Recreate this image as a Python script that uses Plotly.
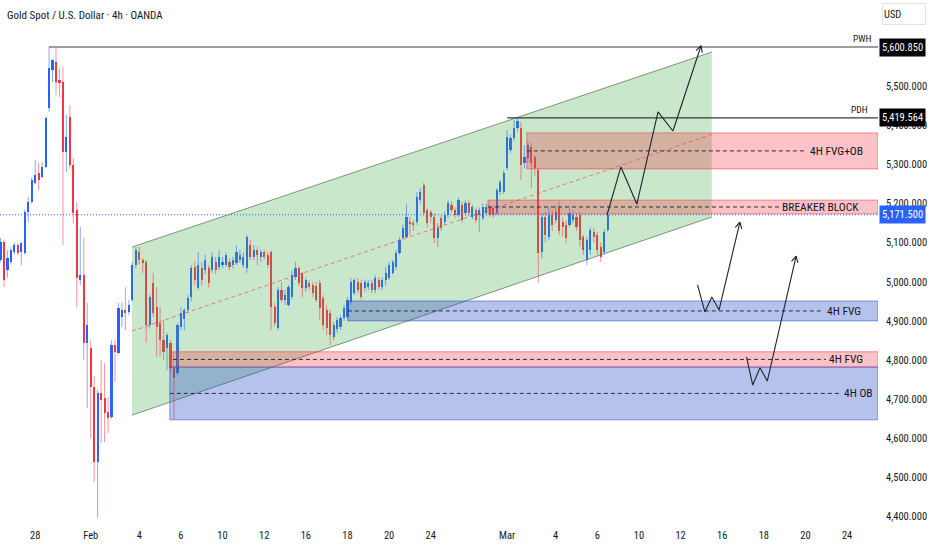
import math

import plotly.graph_objects as go

# ---------------------------------------------------------------------------
# XAU/USD 4h candles as they sit on screen (index 0 = leftmost bar)
# ---------------------------------------------------------------------------
OPEN = [
    5056, 5102, 5030, 5050, 5076, 5094, 5076, 5074, 5179, 5204,
    5253, 5279, 5268, 5294, 5445, 5542, 5563, 5516, 5511, 5332,
    5421, 5299, 5184, 5005, 5018, 4844, 4831, 4731, 4539, 4716,
    4703, 4667, 4655, 4838, 4818, 4910, 4928, 4922, 4954, 5043,
    5076, 5056, 5051, 4890, 4997, 4936, 4895, 4851, 4831, 4844,
    4780, 4767, 4884, 4905, 4928, 4961, 5038, 4985, 5035, 5030,
    5035, 5030, 5051, 5038, 5043, 5043, 5051, 5043, 5048, 5056,
    5043, 5035, 5094, 5064, 5082, 5064, 5076, 5069, 5076, 4936,
    4882, 4979, 4954, 4941, 4961, 5012, 5035, 5023, 4984, 4997,
    4992, 4990, 4997, 4959, 4928, 4920, 4859, 4880, 4884, 4908,
    4910, 4948, 4971, 5000, 4997, 4984, 4987, 4997, 4979, 5005,
    4987, 5005, 5010, 5023, 5038, 5074, 5112, 5115, 5153, 5150,
    5153, 5209, 5248, 5184, 5179, 5166, 5112, 5163, 5153, 5171,
    5197, 5184, 5171, 5197, 5176, 5202, 5166, 5184, 5171, 5163,
    5176, 5192, 5190, 5176, 5230, 5230, 5290, 5337, 5368, 5394,
    5394, 5304, 5317, 5345, 5320, 5286, 5076, 5166, 5115, 5171,
    5158, 5190, 5153, 5146, 5146, 5158, 5166, 5171, 5115, 5056,
    5082, 5128, 5120, 5090, 5076, 5133,
]
HIGH = [
    5112, 5107, 5081, 5090, 5100, 5099, 5102, 5185, 5217, 5268,
    5312, 5304, 5307, 5422, 5600.85, 5570, 5598, 5547, 5550, 5427,
    5452, 5317, 5204, 5140, 5112, 4946, 4850, 4760, 4723, 4800,
    4792, 4705, 4850, 4851, 4946, 4948, 4986, 4954, 5050, 5089,
    5089, 5061, 5056, 4966, 5023, 4987, 4936, 4902, 4870, 4851,
    4787, 4895, 4936, 4933, 4966, 5043, 5051, 5076, 5051, 5069,
    5043, 5076, 5064, 5082, 5064, 5076, 5060, 5064, 5094, 5082,
    5076, 5120, 5107, 5094, 5089, 5082, 5082, 5076, 5080, 4946,
    4987, 5000, 4979, 4992, 5030, 5051, 5040, 5025, 5010, 5005,
    5000, 5000, 5005, 4966, 4941, 4928, 4897, 4910, 4915, 4941,
    4961, 5010, 5010, 5010, 5005, 5005, 5005, 5005, 5018, 5012,
    5012, 5038, 5051, 5056, 5082, 5115, 5146, 5200, 5166, 5158,
    5230, 5240, 5253, 5190, 5184, 5176, 5150, 5170, 5180, 5209,
    5205, 5190, 5215, 5205, 5209, 5209, 5197, 5190, 5190, 5200,
    5200, 5200, 5197, 5240, 5261, 5286, 5389, 5376, 5414, 5419.564,
    5410, 5350, 5360, 5355, 5325, 5292, 5176, 5180, 5190, 5184,
    5197, 5205, 5166, 5158, 5190, 5184, 5176, 5180, 5120, 5115,
    5140, 5138, 5128, 5100, 5135, 5180,
]
LOW = [
    5050, 4987, 5010, 5045, 5070, 5068, 5043, 5070, 5153, 5200,
    5250, 5235, 5265, 5290, 5435, 5510, 5478, 5473, 5094, 5281,
    5290, 5150, 4935, 4992, 4800, 4677, 4600, 4488, 4396, 4588,
    4590, 4613, 4650, 4744, 4815, 4884, 4877, 4915, 4950, 5035,
    5045, 5023, 4844, 4880, 4910, 4808, 4808, 4800, 4774, 4767,
    4647, 4760, 4877, 4877, 4920, 4950, 4990, 4980, 4990, 5020,
    4985, 5023, 5020, 5030, 5035, 5038, 5030, 5035, 5043, 5048,
    5035, 5023, 5056, 5056, 5043, 5051, 5056, 5035, 4877, 4885,
    4877, 4948, 4941, 4936, 4955, 5005, 4990, 4961, 4975, 4979,
    4961, 4948, 4902, 4877, 4864, 4838, 4851, 4870, 4877, 4900,
    4905, 4941, 4966, 4971, 4955, 4975, 4979, 4971, 4971, 4979,
    4979, 4990, 5005, 5018, 5030, 5069, 5107, 5112, 5120, 5130,
    5146, 5200, 5170, 5138, 5150, 5099, 5089, 5130, 5146, 5163,
    5176, 5163, 5166, 5150, 5170, 5170, 5160, 5150, 5128, 5158,
    5170, 5166, 5163, 5171, 5222, 5225, 5286, 5330, 5360, 5385,
    5261, 5290, 5305, 5240, 5270, 4997, 5060, 5100, 5107, 5130,
    5150, 5120, 5115, 5099, 5140, 5150, 5130, 5090, 5069, 5043,
    5069, 5100, 5069, 5051, 5069, 5128,
]
CLOSE = [
    5102, 5005, 5061, 5081, 5094, 5073, 5099, 5179, 5204, 5261,
    5273, 5261, 5294, 5419, 5547, 5568, 5511, 5509, 5332, 5370,
    5299, 5176, 5010, 5018, 4844, 4890, 4731, 4539, 4716, 4698,
    4664, 4652, 4838, 4821, 4933, 4928, 4920, 4941, 5043, 5082,
    5056, 5048, 4890, 4961, 4920, 4884, 4851, 4821, 4864, 4780,
    4754, 4890, 4920, 4928, 4959, 5035, 5005, 5043, 5005, 5056,
    4997, 5064, 5030, 5064, 5051, 5069, 5038, 5056, 5076, 5069,
    5064, 5115, 5064, 5082, 5069, 5076, 5064, 5043, 4936, 4895,
    4979, 4954, 4966, 4987, 5018, 5035, 4997, 4984, 5005, 4987,
    4971, 4954, 4933, 4890, 4882, 4864, 4890, 4902, 4908, 4933,
    4954, 5000, 5005, 4979, 4961, 5000, 4997, 4979, 5010, 4987,
    5005, 5023, 5043, 5051, 5074, 5107, 5138, 5166, 5148, 5146,
    5217, 5230, 5176, 5150, 5166, 5112, 5138, 5138, 5171, 5202,
    5184, 5171, 5209, 5158, 5202, 5176, 5192, 5158, 5184, 5192,
    5192, 5171, 5171, 5235, 5256, 5279, 5370, 5368, 5394, 5412,
    5299, 5320, 5350, 5304, 5291, 5074, 5166, 5120, 5171, 5146,
    5179, 5130, 5140, 5112, 5176, 5171, 5140, 5107, 5082, 5107,
    5133, 5115, 5082, 5064, 5128, 5171.5,
]

PWH = 5600.85
PDH = 5419.564

TICK_BARS = [10, 26, 40, 52, 64, 76, 88, 100, 112, 124,
             146, 160, 172, 184, 196, 208, 220, 232, 244]
TICK_LABELS = ["28", "Feb", "4", "6", "10", "12", "16", "18", "20", "24",
               "Mar", "4", "6", "10", "12", "16", "18", "20", "24"]
PRICE_TICKS = [4400, 4500, 4600, 4700, 4800, 4900, 5000,
               5100, 5200, 5300, 5400, 5500]

# ---------------------------------------------------------------------------
# Drawings, in chart units (bar index, price)
# ---------------------------------------------------------------------------
PWH_START = 14
PDH_START = 146

CHANNEL_BARS = [37.9, 205.0]
CHANNEL_UPPER = [5089, 5588]
CHANNEL_LOWER = [4659, 5166]

ZONE_LABELS = ["4H FVG+OB", "BREAKER BLOCK", "4H FVG", "4H FVG", "4H OB"]
ZONE_KIND = ["red", "red", "blue", "red", "blue"]
ZONE_START = [151.7, 140.5, 100.1, 49.7, 48.8]
ZONE_TOP = [5381, 5209, 4951, 4821, 4782]
ZONE_BOTTOM = [5289, 5174, 4900, 4782, 4647]
ZONE_DASH_END = [231.8, 224.6, 236.7, 237.9, 241.9]

# projected paths (last point carries the arrow head)
PATHS = [
    ([174.8, 178.8, 183.4, 189.5, 193.8, 201.9],
     [5171, 5294, 5199, 5435, 5386, 5604]),
    ([200.9, 203.0, 205.0, 207.1, 213.1],
     [4992, 4923, 4961, 4928, 5153]),
    ([215.0, 216.8, 218.9, 221.0, 229.3],
     [4808, 4736, 4780, 4746, 5066]),
]

# ---------------------------------------------------------------------------
# Styling
# ---------------------------------------------------------------------------
W, H = 932, 550
MARGIN = dict(l=0, r=54, t=0, b=26)
X_RANGE = [-0.14, 252.9]
Y_RANGE = [4380.4, 5721.1]

FONT = "Roboto Condensed, Liberation Sans Narrow, Liberation Sans, sans-serif"
TEXT = "#131722"
UP = "#2962ff"
DOWN = "#f23645"
UP_WICK = "rgba(41,98,255,0.55)"
DOWN_WICK = "rgba(242,54,69,0.55)"
ZONE_FILL = {"red": "rgba(242,54,69,0.30)", "blue": "rgba(48,79,200,0.35)"}
ZONE_EDGE = {"red": "rgba(242,54,69,0.55)", "blue": "rgba(48,79,200,0.55)"}
LABEL_SHIFT = [-13, -17, -15, -13, -3]
SHORT_DASH = "4px,3px"

plot_w = W - MARGIN["l"] - MARGIN["r"]
plot_h = H - MARGIN["t"] - MARGIN["b"]
px_x = plot_w / (X_RANGE[1] - X_RANGE[0])
px_y = plot_h / (Y_RANGE[1] - Y_RANGE[0])


def chevron(xs, ys, size=7.0, spread=math.radians(28)):
    """Open arrow head at the end of a polyline, sized in screen pixels."""
    dx = (xs[-1] - xs[-2]) * px_x
    dy = (ys[-1] - ys[-2]) * px_y
    back = math.atan2(dy, dx) + math.pi
    hx, hy = [], []
    for a in (back - spread, None, back + spread):
        if a is None:
            hx.append(xs[-1])
            hy.append(ys[-1])
        else:
            hx.append(xs[-1] + size * math.cos(a) / px_x)
            hy.append(ys[-1] + size * math.sin(a) / px_y)
    return hx, hy


fig = go.Figure()

# channel fill (behind candles)
fig.add_trace(go.Scatter(
    x=[CHANNEL_BARS[0], CHANNEL_BARS[1], CHANNEL_BARS[1], CHANNEL_BARS[0]],
    y=[CHANNEL_LOWER[0], CHANNEL_LOWER[1], CHANNEL_UPPER[1], CHANNEL_UPPER[0]],
    fill="toself", fillcolor="rgba(76,175,80,0.30)",
    mode="none", hoverinfo="skip",
))

# candles: wicks then bodies
bars = list(range(len(CLOSE)))
for is_up, wick_col, body_col in ((True, UP_WICK, UP), (False, DOWN_WICK, DOWN)):
    idx = [i for i in bars if (CLOSE[i] >= OPEN[i]) == is_up]
    wx, wy = [], []
    for i in idx:
        wx += [i, i, None]
        wy += [LOW[i], HIGH[i], None]
    fig.add_trace(go.Scatter(x=wx, y=wy, mode="lines",
                             line=dict(color=wick_col, width=1), hoverinfo="skip"))
    fig.add_trace(go.Bar(
        x=idx,
        base=[min(OPEN[i], CLOSE[i]) for i in idx],
        y=[abs(CLOSE[i] - OPEN[i]) for i in idx],
        width=0.62, marker=dict(color=body_col, line=dict(width=0)),
        hoverinfo="skip",
    ))

# channel borders + midline
for edge in (CHANNEL_UPPER, CHANNEL_LOWER):
    fig.add_trace(go.Scatter(x=CHANNEL_BARS, y=edge, mode="lines",
                             line=dict(color="rgba(80,110,80,0.7)", width=1),
                             hoverinfo="skip"))
fig.add_trace(go.Scatter(
    x=CHANNEL_BARS,
    y=[(u + l) / 2 for u, l in zip(CHANNEL_UPPER, CHANNEL_LOWER)],
    mode="lines", line=dict(color="rgba(242,54,69,0.6)", width=1, dash=SHORT_DASH),
    hoverinfo="skip"))

# zones
for k in range(len(ZONE_LABELS)):
    x0, x1 = ZONE_START[k], X_RANGE[1]
    fig.add_trace(go.Scatter(
        x=[x0, x1, x1, x0, x0],
        y=[ZONE_BOTTOM[k], ZONE_BOTTOM[k], ZONE_TOP[k], ZONE_TOP[k], ZONE_BOTTOM[k]],
        fill="toself", fillcolor=ZONE_FILL[ZONE_KIND[k]],
        mode="lines", line=dict(color=ZONE_EDGE[ZONE_KIND[k]], width=1),
        hoverinfo="skip"))
    mid = (ZONE_TOP[k] + ZONE_BOTTOM[k]) / 2
    fig.add_trace(go.Scatter(
        x=[x0, ZONE_DASH_END[k]], y=[mid, mid], mode="lines",
        line=dict(color="#2a2e39", width=1, dash=SHORT_DASH), hoverinfo="skip"))
    fig.add_annotation(x=X_RANGE[1], y=mid, xref="x", yref="y",
                       text=ZONE_LABELS[k], showarrow=False, xanchor="right",
                       xshift=LABEL_SHIFT[k], font=dict(family=FONT, size=11.5, color=TEXT))

# PWH / PDH levels
for start, level, name, shift in ((PWH_START, PWH, "PWH", -4), (PDH_START, PDH, "PDH", -8)):
    fig.add_trace(go.Scatter(x=[start, X_RANGE[1]], y=[level, level], mode="lines",
                             line=dict(color="#363a45", width=1.2), hoverinfo="skip"))
    fig.add_annotation(x=X_RANGE[1], y=level, xref="x", yref="y", text=name,
                       showarrow=False, xanchor="right", yanchor="bottom",
                       xshift=shift, yshift=1, font=dict(family=FONT, size=9.5, color=TEXT))

# last price line
last = CLOSE[-1]
fig.add_trace(go.Scatter(x=X_RANGE, y=[last, last], mode="lines",
                         line=dict(color=UP, width=1, dash="1px,2px"), hoverinfo="skip"))

# projected paths
for px_, py_ in PATHS:
    hx, hy = chevron(px_, py_)
    fig.add_trace(go.Scatter(x=px_, y=py_, mode="lines",
                             line=dict(color="#1e222d", width=1.1), hoverinfo="skip"))
    fig.add_trace(go.Scatter(x=hx, y=hy, mode="lines",
                             line=dict(color="#1e222d", width=1.1), hoverinfo="skip"))

# price-scale badges
for level, bg in ((PWH, "#000000"), (PDH, "#000000"), (last, UP)):
    fig.add_annotation(x=1, y=level, xref="paper", yref="y", text=f"{level:,.3f}",
                       showarrow=False, xanchor="left", xshift=1, bgcolor=bg,
                       borderpad=2, font=dict(family=FONT, size=10.5, color="white"))

fig.add_annotation(x=1, y=1, xref="paper", yref="paper", text="USD", showarrow=False,
                   xanchor="left", yanchor="top", xshift=4, yshift=-3, width=40, height=18,
                   align="left", bgcolor="white", bordercolor="#e0e3eb", borderwidth=1,
                   font=dict(family=FONT, size=10.5, color=TEXT))
fig.add_annotation(x=0, y=1, xref="paper", yref="paper",
                   text="Gold Spot / U.S. Dollar · 4h · OANDA", showarrow=False,
                   xanchor="left", yanchor="top", xshift=5, yshift=-7,
                   font=dict(family=FONT, size=11, color=TEXT))

fig.update_layout(
    width=W, height=H, margin=MARGIN,
    plot_bgcolor="white", paper_bgcolor="white",
    showlegend=False, barmode="overlay", bargap=0, hovermode=False,
    xaxis=dict(range=X_RANGE, tickvals=TICK_BARS, ticktext=TICK_LABELS,
               showgrid=False, zeroline=False, showline=False, ticks="",
               ticklabelstandoff=3,
               tickfont=dict(family=FONT, size=10.5, color=TEXT), fixedrange=True),
    yaxis=dict(range=Y_RANGE, side="right", tickvals=PRICE_TICKS, tickformat=",.3f",
               showgrid=False, zeroline=False, showline=False, ticks="",
               ticklabelstandoff=7,
               tickfont=dict(family=FONT, size=10.5, color=TEXT), fixedrange=True),
)

# the page is photographed from its top-left corner: drop the default body margin
fig.write_html("out.html", config={"displayModeBar": False},
               post_script="document.body.style.margin = '0';")
